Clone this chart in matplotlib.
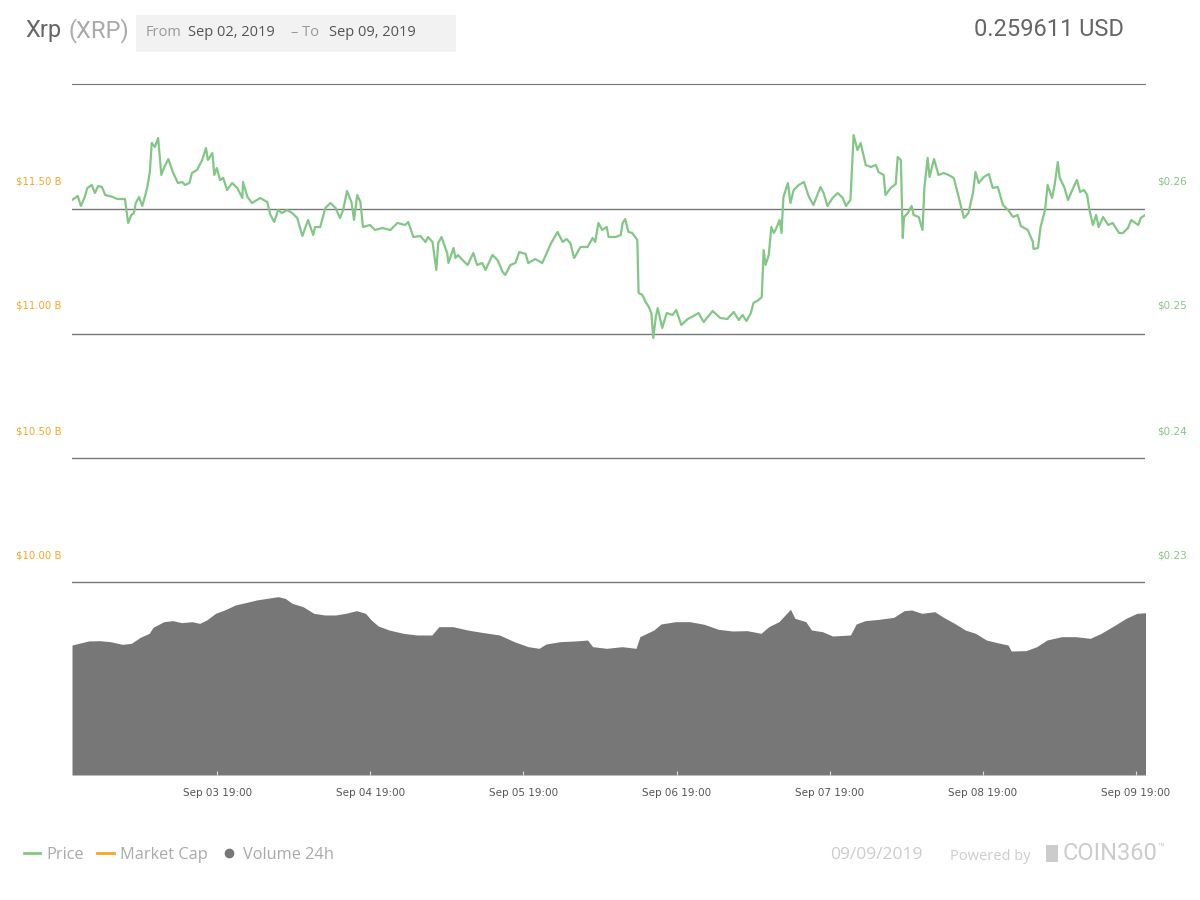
import pandas as pd
import matplotlib
matplotlib.use("Agg")
import matplotlib.pyplot as plt
from matplotlib.lines import Line2D
from matplotlib.patches import Rectangle

# --- data (hours since Sep 02 2019 20:15) ---
price_hours = [0.0, 0.9, 1.4, 2.0, 2.4, 3.1, 3.6, 4.1, 4.7, 5.2, 6.4, 7.1, 8.3, 8.8, 9.3, 9.7, 10.0, 10.5,
               11.0, 11.5, 11.8, 12.2, 12.5, 13.0, 13.5, 14.0, 14.4, 15.1, 15.8, 16.6, 17.3, 17.7, 18.4,
               18.8, 19.6, 20.4, 21.0, 21.3, 22.0, 22.3, 22.7, 23.2, 23.7, 24.3, 25.1, 25.9, 26.7, 26.8,
               27.5, 28.2, 29.0, 29.5, 30.6, 31.1, 31.7, 32.3, 32.9, 33.7, 34.5, 35.3, 36.1, 37.0, 37.8,
               38.1, 38.9, 39.7, 40.5, 41.3, 42.0, 42.5, 43.1, 43.8, 44.2, 44.7, 45.2, 45.6, 46.7, 47.5,
               48.6, 49.9, 51.0, 52.2, 52.7, 53.5, 54.6, 55.4, 55.8, 56.5, 57.1, 57.4, 57.9, 58.8, 59.0,
               59.8, 60.1, 60.5, 61.2, 62.0, 62.9, 63.5, 64.3, 64.8, 65.9, 66.7, 67.5, 67.9, 68.7, 69.5,
               70.1, 71.1, 71.5, 72.6, 73.7, 74.4, 75.1, 76.1, 76.9, 77.5, 78.1, 78.7, 79.7, 80.8, 81.6,
               82.0, 82.5, 83.1, 83.8, 84.1, 85.2, 86.0, 86.3, 86.7, 87.2, 87.8, 88.6, 88.8, 89.4, 89.9,
               90.4, 90.8, 91.1, 91.5, 91.8, 92.5, 93.2, 94.1, 94.7, 95.5, 96.5, 97.4, 98.2, 99.0, 100.4,
               101.6, 102.7, 103.7, 104.5, 105.1, 105.7, 106.4, 106.8, 107.6, 108.1, 108.4, 108.7, 109.2,
               109.6, 110.0, 110.4, 110.9, 111.2, 111.5, 112.2, 112.6, 113.1, 113.9, 114.7, 115.5, 116.2,
               117.3, 117.8, 118.4, 119.2, 120.0, 120.8, 121.3, 122.0, 122.5, 123.1, 123.6, 124.4, 125.2,
               126.0, 126.4, 127.2, 127.5, 128.3, 129.1, 129.4, 129.9, 130.2, 130.4, 131.0, 131.6, 131.9,
               132.7, 133.3, 133.6, 134.1, 134.4, 135.1, 135.8, 136.6, 137.4, 138.2, 139.0, 139.8, 140.5,
               141.2, 141.6, 142.1, 142.9, 143.7, 144.3, 145.1, 145.9, 146.7, 147.5, 148.2, 148.7, 149.8,
               150.6, 150.7, 151.4, 151.8, 152.5, 152.9, 153.6, 154.0, 154.5, 154.8, 155.5, 156.1, 156.9,
               157.5, 158.0, 158.6, 159.1, 159.4, 160.0, 160.5, 160.9, 161.6, 162.4, 163.1, 164.1, 164.7,
               165.5, 166.0, 167.1, 167.5, 168.2]
price_usd = [0.2584, 0.25872, 0.25792, 0.25864, 0.25936, 0.2596, 0.25896, 0.25952, 0.25944, 0.2588,
             0.25864, 0.25848, 0.25848, 0.25656, 0.2572, 0.25736, 0.25816, 0.25864, 0.25792, 0.2588,
             0.25944, 0.26064, 0.26296, 0.26264, 0.26336, 0.2604, 0.26096, 0.26168, 0.26064, 0.25976,
             0.25984, 0.2596, 0.25976, 0.26056, 0.2608, 0.2616, 0.26256, 0.2616, 0.26216, 0.2604,
             0.26096, 0.26, 0.26016, 0.2592, 0.25976, 0.25936, 0.25856, 0.25984, 0.25864, 0.25816,
             0.2584, 0.25856, 0.25824, 0.2572, 0.25664, 0.2576, 0.25736, 0.2576, 0.25736, 0.25696,
             0.25552, 0.2568, 0.2556, 0.25624, 0.25624, 0.25776, 0.25816, 0.25776, 0.25696, 0.2576,
             0.25912, 0.25824, 0.2568, 0.2588, 0.25824, 0.25624, 0.2564, 0.256, 0.25616, 0.256,
             0.25656, 0.2564, 0.25664, 0.25544, 0.25552, 0.25504, 0.25544, 0.25504, 0.2528, 0.25496,
             0.25544, 0.25416, 0.25336, 0.25456, 0.25376, 0.254, 0.2536, 0.2532, 0.25416, 0.2532,
             0.25336, 0.2528, 0.254, 0.2536, 0.25264, 0.2524, 0.2532, 0.25336, 0.25424, 0.25408,
             0.25336, 0.25368, 0.25336, 0.25416, 0.25496, 0.25584, 0.25504, 0.25528, 0.25496, 0.25376,
             0.25464, 0.25464, 0.25536, 0.25504, 0.25656, 0.256, 0.25624, 0.25544, 0.25544, 0.2556,
             0.25656, 0.25688, 0.25584, 0.25576, 0.2552, 0.25096, 0.2508, 0.25024, 0.24984, 0.24936,
             0.24736, 0.24904, 0.24976, 0.24816, 0.24936, 0.2492, 0.2496, 0.2484, 0.24888, 0.24912,
             0.24936, 0.24864, 0.24952, 0.24896, 0.24888, 0.24944, 0.2488, 0.2492, 0.24872, 0.24936,
             0.25016, 0.2504, 0.25064, 0.2544, 0.2532, 0.254, 0.25624, 0.25576, 0.25616, 0.2568,
             0.25576, 0.25864, 0.25976, 0.25816, 0.2592, 0.2596, 0.25984, 0.25864, 0.258, 0.25944,
             0.25896, 0.25792, 0.25856, 0.25896, 0.25856, 0.25792, 0.2584, 0.2636, 0.2624, 0.26296,
             0.2612, 0.26104, 0.2612, 0.26064, 0.2604, 0.2588, 0.25936, 0.25968, 0.26184, 0.2616,
             0.25536, 0.25704, 0.25736, 0.25792, 0.2572, 0.25704, 0.256, 0.25944, 0.26176, 0.26024,
             0.26168, 0.2604, 0.26056, 0.2604, 0.26016, 0.25856, 0.25696, 0.25736, 0.25896, 0.26064,
             0.25976, 0.26024, 0.26048, 0.25936, 0.25944, 0.258, 0.2576, 0.25704, 0.2572, 0.25632,
             0.256, 0.25504, 0.25448, 0.25456, 0.25624, 0.2576, 0.2596, 0.25856, 0.2596, 0.26144,
             0.26016, 0.25944, 0.2584, 0.25936, 0.26, 0.25904, 0.2592, 0.2588, 0.25776, 0.2564,
             0.2572, 0.25624, 0.25704, 0.2564, 0.25656, 0.25576, 0.25576, 0.25616, 0.2568, 0.2564,
             0.25696, 0.2572]

vol_hours = [0.0, 2.6, 4.3, 6.0, 7.9, 9.3, 10.7, 12.1, 12.7, 14.4, 15.8, 17.2, 18.8, 20.0, 21.1, 22.5,
             23.9, 25.6, 27.2, 28.9, 30.6, 32.3, 33.4, 34.5, 36.2, 37.9, 39.6, 41.3, 42.9, 44.6, 46.0,
             46.9, 48.0, 49.7, 51.9, 54.1, 56.4, 57.5, 59.7, 62.0, 64.2, 67.0, 69.3, 71.5, 73.2, 74.3,
             76.5, 78.8, 80.8, 81.6, 83.8, 86.2, 88.4, 89.0, 91.2, 92.3, 94.6, 96.8, 99.1, 101.3, 103.5,
             105.8, 108.0, 109.2, 110.8, 112.0, 112.6, 113.3, 115.0, 115.9, 117.6, 119.2, 122.0, 122.9,
             124.3, 126.5, 128.8, 130.4, 131.6, 133.2, 135.2, 136.6, 138.3, 140.0, 141.6, 143.3, 145.0,
             146.7, 147.2, 149.5, 151.2, 152.8, 155.1, 157.3, 159.6, 161.3, 163.5, 165.2, 166.9, 168.3]
volume_bn = [0.975, 1.005, 1.0075, 1.0, 0.98, 0.9875, 1.0325, 1.0625, 1.1075, 1.15, 1.1575, 1.1425,
             1.15, 1.1375, 1.1625, 1.2125, 1.2375, 1.275, 1.2925, 1.3125, 1.325, 1.3375, 1.325, 1.2875,
             1.2625, 1.2125, 1.2, 1.2, 1.2125, 1.2325, 1.2125, 1.1625, 1.1175, 1.0875, 1.0625, 1.05,
             1.05, 1.1125, 1.1125, 1.0875, 1.07, 1.05, 1.0, 0.9625, 0.95, 0.9825, 1.0, 1.005, 1.0125,
             0.9625, 0.95, 0.9625, 0.95, 1.0375, 1.0875, 1.1325, 1.15, 1.15, 1.13, 1.0925, 1.08,
             1.0825, 1.0625, 1.1125, 1.15, 1.2125, 1.2425, 1.175, 1.15, 1.0875, 1.075, 1.0425, 1.05,
             1.1325, 1.1575, 1.1675, 1.1825, 1.2325, 1.2375, 1.2125, 1.225, 1.1825, 1.1375, 1.0875,
             1.0625, 1.0125, 0.9925, 0.975, 0.93, 0.9325, 0.9625, 1.0125, 1.0375, 1.0375, 1.025,
             1.0625, 1.125, 1.175, 1.2125, 1.2175]

start = pd.Timestamp("2019-09-02 20:15")
price_time = start + pd.to_timedelta(price_hours, unit="h")
vol_time = start + pd.to_timedelta(vol_hours, unit="h")

tick_times = pd.date_range("2019-09-03 19:00", periods=7, freq="D")
tick_labels = [t.strftime("%b %d %H:%M") for t in tick_times]
price_ticks = [0.23, 0.24, 0.25, 0.26]
price_labels = ["$0.23", "$0.24", "$0.25", "$0.26"]
mcap_ticks = [10.0, 10.5, 11.0, 11.5]
mcap_labels = ["$10.00 B", "$10.50 B", "$11.00 B", "$11.50 B"]
grid_prices = [0.22784, 0.23776, 0.24768, 0.25768]

GREEN = "#82c785"
ORANGE = "#f5a623"
GRAY = "#777777"

fig = plt.figure(figsize=(12, 9), dpi=100)
W, H = 1200, 900


def fx(x):
    return x / W


def fy(y):
    return 1 - y / H


ax_vol = fig.add_axes([fx(72), fy(775), 1073 / W, 691 / H])
ax_vol.fill_between(vol_time, volume_bn, 0, color=GRAY, lw=0)
ax_vol.set_ylim(0, 5.1825)
ax_vol.set_xlim(start, start + pd.Timedelta(days=7, minutes=10))
ax_vol.set_yticks([])
ax_vol.set_xticks(tick_times)
ax_vol.set_xticklabels(tick_labels)
ax_vol.tick_params(axis="x", direction="in", length=3, color="#dddddd", pad=9,
                   labelsize=7.5, labelcolor="#555555")
for s in ax_vol.spines.values():
    s.set_visible(False)

# price axis (right)
ax_p = ax_vol.twinx()
ax_p.plot(price_time, price_usd, color=GREEN, lw=1.6)
ax_p.set_ylim(0.2124, 0.26768)
ax_p.set_yticks(price_ticks)
ax_p.set_yticklabels(price_labels)
ax_p.set_yticks(grid_prices, minor=True)
ax_p.grid(True, which="minor", axis="y", color=GRAY, lw=1)
ax_p.tick_params(axis="y", which="both", length=0, pad=9, labelsize=7.5, labelcolor=GREEN)
for s in ax_p.spines.values():
    s.set_visible(False)
ax_p.spines["top"].set_visible(True)
ax_p.spines["top"].set_color(GRAY)

# market cap axis (left)
ax_m = ax_vol.twinx()
ax_m.set_ylim(9.12, 11.884)
ax_m.yaxis.tick_left()
ax_m.set_yticks(mcap_ticks)
ax_m.set_yticklabels(mcap_labels)
ax_m.tick_params(axis="y", length=0, pad=7.5, labelsize=7.3, labelcolor=ORANGE)
for s in ax_m.spines.values():
    s.set_visible(False)

# header
hdr = ["Roboto", "DejaVu Sans"]
fig.text(fx(25), fy(31), "Xrp", fontsize=17, color="#666666", family=hdr, va="center")
fig.text(fx(68), fy(31), "(XRP)", fontsize=17, color="#aaaaaa", family=hdr, va="center")
fig.patches.append(Rectangle((fx(136), fy(52)), 320 / W, 37 / H, transform=fig.transFigure,
                             facecolor="#f2f2f2", edgecolor="none"))
sub = ["Open Sans", "DejaVu Sans"]
fig.text(fx(146), fy(33), "From", fontsize=10.5, color="#999999", family=sub, va="center")
fig.text(fx(188), fy(33), "Sep 02, 2019", fontsize=10.5, color="#555555", family=sub, va="center")
fig.text(fx(291), fy(33), "– To", fontsize=10.5, color="#999999", family=sub, va="center")
fig.text(fx(329), fy(33), "Sep 09, 2019", fontsize=10.5, color="#555555", family=sub, va="center")
fig.text(fx(1124), fy(29), "0.259611 USD", fontsize=17, color="#666666", family=hdr,
         va="center", ha="right")

# legend
handles = [Line2D([], [], color=GREEN, lw=2),
           Line2D([], [], color=ORANGE, lw=2),
           Line2D([], [], color=GRAY, lw=0, marker="o", markersize=6)]
fig.legend(handles, ["Price", "Market Cap", "Volume 24h"], loc="center left",
           bbox_to_anchor=(fx(9), fy(855)), ncol=3, frameon=False, handlelength=1.0,
           handletextpad=0.35, columnspacing=0.85, labelcolor="#aaaaaa",
           prop={"family": sub, "size": 11.8})

# footer
fig.text(fx(830), fy(855), "09/09/2019", fontsize=12.5, color="#cccccc", family=sub, va="center")
fig.text(fx(950), fy(856), "Powered by", fontsize=10.5, color="#cccccc", family=sub, va="center")
fig.patches.append(Rectangle((fx(1046), fy(862)), 12 / W, 17 / H, transform=fig.transFigure,
                             facecolor="#cccccc", edgecolor="none"))
fig.text(fx(1063), fy(854), "COIN360", fontsize=17, color="#cccccc", family=hdr, va="center")
fig.text(fx(1157), fy(848), "™", fontsize=8, color="#cccccc", family=hdr, va="center")

fig.savefig("out.png", dpi=100)
